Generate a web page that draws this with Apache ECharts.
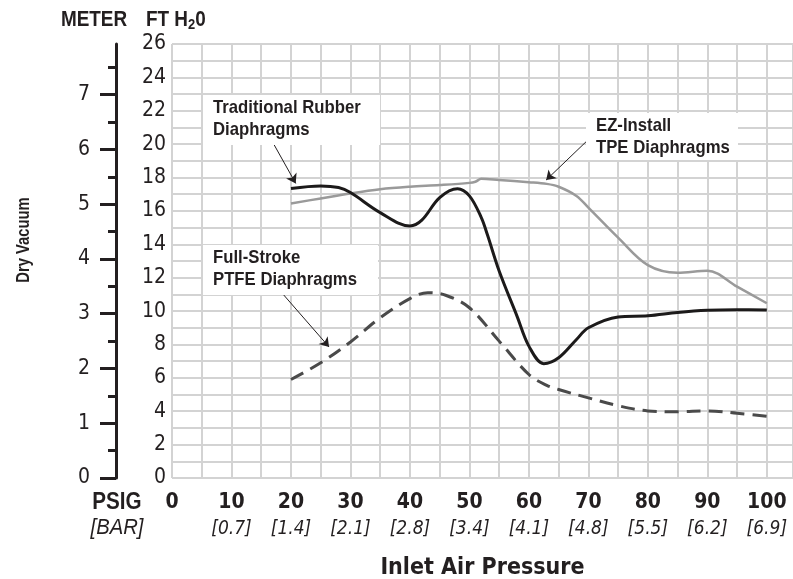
<!DOCTYPE html>
<html lang="en">
<head>
    <meta charset="UTF-8">
    <title>Dry Vacuum vs Inlet Air Pressure</title>
    <script src="https://cdn.jsdelivr.net/npm/echarts@6/dist/echarts.min.js"></script>
    <style>
        html, body { margin: 0; padding: 0; background: #fff; }
        #chart { width: 793px; height: 579px; }
    </style>
</head>
<body>
    <div id="chart"></div>
    <script>
        // 数据：横轴为 PSIG，纵轴为 FT H2O
        let psigTicks = [0, 10, 20, 30, 40, 50, 60, 70, 80, 90, 100];
        let barLabels = ['', '0.7', '1.4', '2.1', '2.8', '3.4', '4.1', '4.8', '5.5', '6.2', '6.9'];
        let ftTicks = [0, 2, 4, 6, 8, 10, 12, 14, 16, 18, 20, 22, 24, 26];
        let meterTicks = [0, 1, 2, 3, 4, 5, 6, 7];
        let meterMinorTicks = [0.5, 1.5, 2.5, 3.5, 4.5, 5.5, 6.5, 7.5];

        // 传统橡胶隔膜
        let rubberX = [20, 25, 28, 30, 35, 40, 42, 45, 48, 50, 52, 53, 55, 58, 60, 62.5, 65, 68, 70, 75, 80, 85, 90, 95, 100];
        let rubberY = [17.35, 17.5, 17.4, 17.1, 15.9, 15.1, 15.45, 16.8, 17.33, 16.9, 15.6, 14.6, 12.4, 9.7, 7.9, 6.85, 7.2, 8.3, 9.0, 9.65, 9.72, 9.92, 10.05, 10.08, 10.07];
        // EZ-Install TPE 隔膜
        let tpeX = [20, 25, 30, 35, 40, 45, 50, 51, 52, 55, 60, 63, 65, 68, 70, 75, 80, 85, 90, 95, 100];
        let tpeY = [16.45, 16.75, 17.05, 17.3, 17.45, 17.55, 17.68, 17.75, 17.92, 17.85, 17.72, 17.62, 17.45, 16.9, 16.2, 14.4, 12.75, 12.3, 12.42, 11.46, 10.47];
        // Full-Stroke PTFE 隔膜
        let ptfeX = [20, 25, 30, 35, 40, 43, 46, 50, 55, 60, 63, 65, 70, 75, 80, 85, 90, 95, 100];
        let ptfeY = [5.9, 6.9, 8.15, 9.6, 10.75, 11.1, 10.95, 10.2, 8.2, 6.2, 5.55, 5.3, 4.8, 4.33, 4.02, 3.97, 4.02, 3.88, 3.7];

        let axisFont = "'DejaVu Sans Condensed', sans-serif";
        let textFont = "'Liberation Sans', Arial, sans-serif";
        let ink = '#231f20';
        let gridColor = '#d3d3d3';

        function pairs(xs, ys) {
            return xs.map((x, i) => [x, ys[i]]);
        }

        function arrow(from, to) {
            return {
                silent: true,
                symbol: ['none', 'arrow'],
                symbolSize: 9,
                label: { show: false },
                lineStyle: { color: ink, width: 1, type: 'solid' },
                data: [[{ coord: from }, { coord: to }]]
            };
        }

        // 文字标签（窄体：水平压缩）
        function label(x, y, text, font, scaleX, opts) {
            return Object.assign({
                type: 'text', x: x, y: y, z: 100, scaleX: scaleX,
                style: { text: text, fill: ink, font: font, align: 'center', verticalAlign: 'middle' }
            }, opts || {});
        }

        function noteBox(x, y, w, h, text) {
            return [
                { type: 'rect', z: 99, shape: { x: x, y: y, width: w, height: h }, style: { fill: '#fff' } },
                {
                    type: 'text', z: 100, x: x + 10, y: y + 2, scaleX: 0.88,
                    style: { text: text, fill: ink, font: 'bold 19px ' + textFont, lineHeight: 22 }
                }
            ];
        }

        let chart = echarts.init(document.getElementById('chart'));
        chart.setOption({
            animation: false,
            grid: { left: 172, top: 44, right: 0, bottom: 101, outerBoundsMode: 'none', containLabel: false },
            xAxis: {
                type: 'value',
                min: 0,
                max: 104.4,
                interval: 5,
                name: 'Inlet Air Pressure',
                nameLocation: 'middle',
                nameGap: 79,
                nameTextStyle: { fontFamily: axisFont, fontWeight: 'bold', fontSize: 23, color: ink },
                axisLine: { show: false },
                axisTick: { show: false },
                splitLine: { show: true, lineStyle: { color: gridColor, width: 2 } },
                axisLabel: {
                    customValues: psigTicks,
                    margin: 12,
                    formatter: function (v) {
                        let i = psigTicks.indexOf(v);
                        let bar = barLabels[i] ? '[' + barLabels[i] + ']' : ' ';
                        return '{a|' + v + '}\n{b|' + bar + '}';
                    },
                    rich: {
                        a: { fontFamily: axisFont, fontWeight: 'bold', fontSize: 21, color: ink, lineHeight: 26 },
                        b: { fontFamily: axisFont, fontStyle: 'italic', fontSize: 19, color: ink, lineHeight: 26 }
                    }
                }
            },
            yAxis: [
                {
                    // FT H2O
                    type: 'value',
                    min: 0,
                    max: 26,
                    interval: 1,
                    position: 'left',
                    axisLine: { show: false },
                    axisTick: { show: false },
                    splitLine: { show: true, lineStyle: { color: gridColor, width: 2 } },
                    axisLabel: {
                        customValues: ftTicks,
                        margin: 6,
                        fontFamily: axisFont, fontSize: 21, color: ink
                    }
                },
                {
                    // METER 主刻度
                    type: 'value',
                    min: 0,
                    max: 26 / 3.28084,
                    position: 'left',
                    offset: 56,
                    axisLine: { show: true, lineStyle: { color: ink, width: 3 } },
                    axisTick: { show: true, customValues: meterTicks, length: 16, lineStyle: { color: ink, width: 3 } },
                    splitLine: { show: false },
                    axisLabel: {
                        customValues: meterTicks,
                        margin: 26,
                        fontFamily: axisFont, fontSize: 21, color: ink
                    }
                },
                {
                    // METER 次刻度
                    type: 'value',
                    min: 0,
                    max: 26 / 3.28084,
                    position: 'left',
                    offset: 56,
                    axisLine: { show: false },
                    axisTick: { show: true, customValues: meterMinorTicks, length: 8, lineStyle: { color: ink, width: 3 } },
                    splitLine: { show: false },
                    axisLabel: { show: false }
                }
            ],
            series: [
                {
                    name: 'EZ-Install TPE Diaphragms',
                    type: 'line',
                    data: pairs(tpeX, tpeY),
                    smooth: 0.35,
                    showSymbol: false,
                    lineStyle: { color: '#9a9a9a', width: 2.5 },
                    markLine: arrow([70.8, 20.55], [62.9, 17.85])
                },
                {
                    name: 'Traditional Rubber Diaphragms',
                    type: 'line',
                    data: pairs(rubberX, rubberY),
                    smooth: 0.35,
                    showSymbol: false,
                    lineStyle: { color: '#1c1a1a', width: 3 },
                    markLine: arrow([17.0, 20.07], [20.8, 17.65])
                },
                {
                    name: 'Full-Stroke PTFE Diaphragms',
                    type: 'line',
                    data: pairs(ptfeX, ptfeY),
                    smooth: 0.35,
                    showSymbol: false,
                    lineStyle: { color: '#4a4a4a', width: 3, type: [14, 8] },
                    markLine: arrow([18.5, 11.08], [26.4, 7.85])
                }
            ],
            graphic: [].concat(
                noteBox(203, 95, 177, 50, 'Traditional Rubber\nDiaphragms'),
                noteBox(586, 113, 152, 47, 'EZ-Install\nTPE Diaphragms'),
                noteBox(203, 245, 175, 50, 'Full-Stroke\nPTFE Diaphragms'),
                [
                    label(94, 20, 'METER', 'bold 22px ' + textFont, 0.86),
                    {
                        type: 'text', x: 146, y: 20, z: 100, scaleX: 0.86,
                        style: {
                            text: 'FT H{s|2}0', fill: ink, font: 'bold 22px ' + textFont, verticalAlign: 'middle',
                            rich: { s: { fontFamily: textFont, fontWeight: 'bold', fontSize: 15, padding: [10, 0, 0, 0] } }
                        }
                    },
                    label(24, 240, 'Dry Vacuum', 'bold 18px ' + textFont, 0.82, { rotation: Math.PI / 2 }),
                    label(117, 502, 'PSIG', 'bold 24px ' + textFont, 0.86),
                    label(117, 528, '[BAR]', 'italic 22px ' + textFont, 0.92)
                ]
            )
        });
    </script>
</body>
</html>
